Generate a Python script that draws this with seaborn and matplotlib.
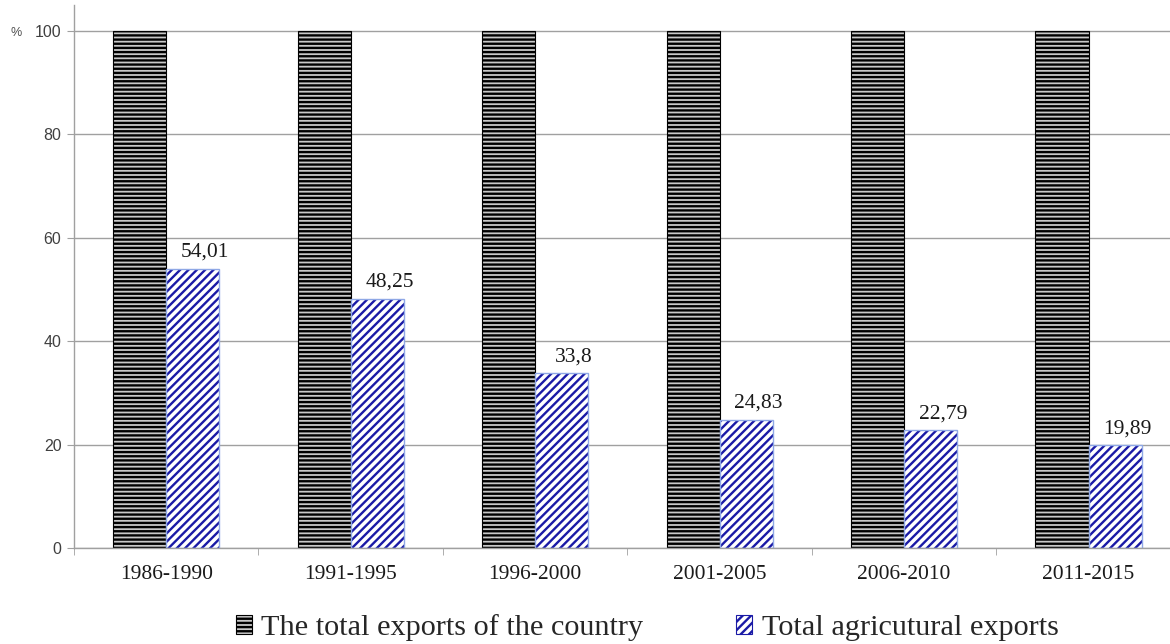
import matplotlib
matplotlib.use("Agg")
import matplotlib.pyplot as plt
import seaborn as sns
import pandas as pd
from matplotlib.patches import Patch, Rectangle

periods = ["1986-1990", "1991-1995", "1996-2000", "2001-2005", "2006-2010", "2011-2015"]
total_exports = [100, 100, 100, 100, 100, 100]
agri_exports = [54.01, 48.25, 33.8, 24.83, 22.79, 19.89]
agri_labels = ["54,01", "48,25", "33,8", "24,83", "22,79", "19,89"]
series_names = ["The total exports of the country", "Total agricutural exports"]
y_ticks = [0, 20, 40, 60, 80, 100]

sns.set_style("white")
plt.rcParams["hatch.linewidth"] = 1.7

df = pd.DataFrame({
    "period": periods * 2,
    "value": total_exports + agri_exports,
    "series": [series_names[0]] * len(periods) + [series_names[1]] * len(periods),
})

fig = plt.figure(figsize=(11.7, 6.44), dpi=100)
ax = fig.add_axes([0.0632, 0.149, 0.946, 0.843])

sns.barplot(data=df, x="period", y="value", hue="series", order=periods,
            hue_order=series_names, width=0.575, ax=ax, legend=False,
            palette=["#d8d8d8", "white"], saturation=1)

n = len(periods)
patches = [p for p in ax.patches]
black_bars = patches[:n]
blue_bars = patches[n:2 * n]
for p in black_bars:
    p.set_facecolor("#c8c8c8")
    p.set_edgecolor("black")
    p.set_hatch("----")
    p.set_linewidth(0.8)
for p, lab in zip(blue_bars, agri_labels):
    p.set_facecolor("white")
    p.set_edgecolor("#1a1aa6")
    p.set_hatch("////")
    p.set_linewidth(0)
    ax.add_patch(Rectangle((p.get_x(), p.get_y()), p.get_width(), p.get_height(),
                           fill=False, ec="#8fa8e6", lw=1.0, zorder=p.get_zorder() + 0.1))
    ax.annotate(lab, (p.get_x() + p.get_width() / 2, p.get_height()),
                xytext=(9, 5), textcoords="offset points", ha="center", va="bottom",
                fontsize=15.5, family="Liberation Serif", color="#1a1a1a")

ax.set_ylim(0, 105)
ax.set_xlim(-0.5, n - 0.5)
ax.set_yticks(y_ticks)
ax.set_yticklabels([str(t) for t in y_ticks], fontsize=11.5, family="Liberation Sans", color="#404040")
ax.yaxis.grid(True, color="#a0a0a0", lw=1.0)
ax.set_axisbelow(True)
ax.tick_params(axis="y", length=5, color="#a0a0a0", direction="out", left=True, pad=4)
ax.set_xticks(range(n))
ax.set_xticklabels(periods, fontsize=15.5, family="Liberation Serif", color="#1a1a1a")
ax.set_xticks([i - 0.5 for i in range(n + 1)], minor=True)
ax.tick_params(axis="x", which="major", length=0, pad=12)
ax.tick_params(axis="x", which="minor", length=5, color="#a0a0a0", direction="out", bottom=True)
ax.set_xlabel("")
ax.set_ylabel("")
for s in ["top", "right"]:
    ax.spines[s].set_visible(False)
for s in ["left", "bottom"]:
    ax.spines[s].set_color("#a0a0a0")
    ax.spines[s].set_linewidth(1.0)

fig.text(0.009, 0.948, "%", fontsize=9, color="#505050", family="Liberation Sans", va="center")

handles = [
    Patch(facecolor="#c8c8c8", edgecolor="black", hatch="----", lw=0.8, label=series_names[0]),
    Patch(facecolor="white", edgecolor="#1a1aa6", hatch="////", lw=0.8, label=series_names[1]),
]
fig.legend(handles=handles, loc="lower center", bbox_to_anchor=(0.553, -0.038), ncol=2,
           frameon=False, prop={"family": "Liberation Serif", "size": 21.8},
           handlelength=0.55, handleheight=0.55, handletextpad=0.3, columnspacing=3.05)

fig.savefig("out.png", dpi=100)
